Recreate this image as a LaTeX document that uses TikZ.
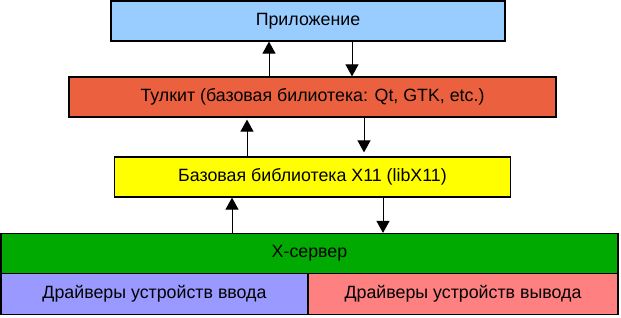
\documentclass[tikz,border=0pt]{standalone}
\usepackage{fontspec}
\setmainfont{Liberation Sans}
\usetikzlibrary{arrows.meta}
\definecolor{appblue}{HTML}{99CCFF}
\definecolor{tkred}{HTML}{EB613F}
\definecolor{xyellow}{HTML}{FFFF00}
\definecolor{xgreen}{HTML}{00AA00}
\definecolor{inblue}{HTML}{9999FF}
\definecolor{outred}{HTML}{FF8080}
\begin{document}
\begin{tikzpicture}[x=1pt,y=-1pt,
  layer/.style={draw=black,line width=1.2pt,rectangle,inner sep=0pt,anchor=center,
    font=\fontsize{17.8pt}{21pt}\selectfont,text=black},
  arr/.style={line width=0.9pt,-{Triangle[width=13pt,length=12pt]}}]
\useasboundingbox (0,0) rectangle (621,317);
\node[layer,fill=appblue,minimum width=394pt,minimum height=40pt] (app) at (308,21) {Приложение};
\node[layer,fill=tkred,minimum width=487pt,minimum height=40pt] (tk) at (312.5,97) {Тулкит (базовая билиотека: Qt, GTK, etc.)};
\node[layer,fill=xyellow,minimum width=396pt,minimum height=40pt] (xlib) at (312.5,177) {Базовая библиотека X11 (libX11)};
\node[layer,fill=xgreen,minimum width=617pt,minimum height=40pt] (xserv) at (309.5,253.5) {X-сервер};
\node[layer,fill=inblue,minimum width=307pt,minimum height=41pt] (in) at (154.5,294) {Драйверы устройств ввода};
\node[layer,fill=outred,minimum width=310pt,minimum height=41pt] (out) at (463,294) {Драйверы устройств вывода};
\draw[arr] (tk.north -| 269,0) -- (app.south -| 269,0);
\draw[arr] (app.south -| 352,0) -- (tk.north -| 352,0);
\draw[arr] (xlib.north -| 247,0) -- ([yshift=-2pt]tk.south -| 247,0);
\draw[arr] (tk.south -| 364,0) -- ([yshift=4pt]xlib.north -| 364,0);
\draw[arr] (xserv.north -| 232,0) -- (xlib.south -| 232,0);
\draw[arr] (xlib.south -| 383,0) -- (xserv.north -| 383,0);
\end{tikzpicture}
\end{document}
